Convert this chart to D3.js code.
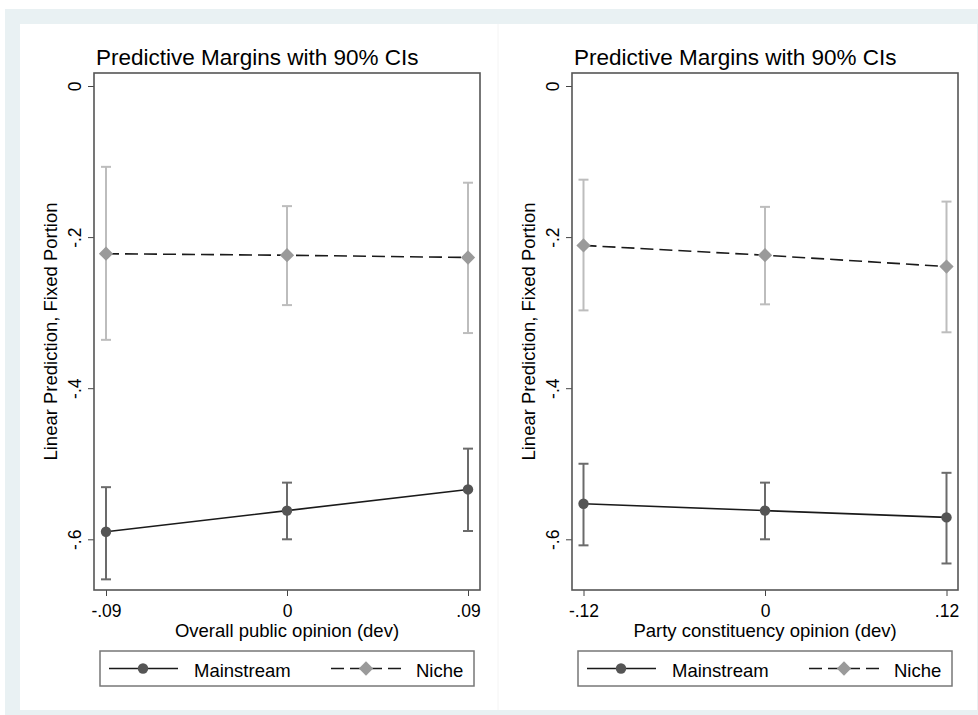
<!DOCTYPE html>
<html>
<head>
<meta charset="utf-8">
<script src="https://cdn.jsdelivr.net/npm/d3@7"></script>
<style>
  body { margin: 0; background: #fff; }
  svg { display: block; font-family: "Liberation Sans", Arial, Helvetica, sans-serif; }
</style>
</head>
<body>
<svg id="chart" width="978" height="715"></svg>
<script>
// values
const titles = ["Predictive Margins with 90% CIs", "Predictive Margins with 90% CIs"];
const xTitles = ["Overall public opinion (dev)", "Party constituency opinion (dev)"];
const yTitle = "Linear Prediction, Fixed Portion";
const yTicks = [0, -0.2, -0.4, -0.6];
const seriesNames = ["Mainstream", "Niche"];

const leftX = [-0.09, 0, 0.09];
const leftMain = [-0.590, -0.562, -0.534];
const leftMainLo = [-0.653, -0.600, -0.589];
const leftMainHi = [-0.531, -0.525, -0.480];
const leftNiche = [-0.222, -0.224, -0.227];
const leftNicheLo = [-0.336, -0.290, -0.327];
const leftNicheHi = [-0.107, -0.159, -0.128];

const rightX = [-0.12, 0, 0.12];
const rightMain = [-0.553, -0.562, -0.571];
const rightMainLo = [-0.608, -0.600, -0.632];
const rightMainHi = [-0.500, -0.525, -0.512];
const rightNiche = [-0.211, -0.224, -0.239];
const rightNicheLo = [-0.297, -0.289, -0.326];
const rightNicheHi = [-0.124, -0.160, -0.153];

const svg = d3.select("#chart");

// light frame round the whole graph
svg.append("rect").attr("x", 5).attr("y", 9).attr("width", 973).attr("height", 706).attr("fill", "#e9f1f3");
svg.append("rect").attr("x", 20).attr("y", 24).attr("width", 957).attr("height", 686).attr("fill", "#fff");
svg.append("line").attr("x1", 498).attr("x2", 498).attr("y1", 24).attr("y2", 710)
  .attr("stroke", "#f4f4f4").attr("stroke-width", 1);

// Stata style labels: "-.09", "0", ".12" with a plain hyphen
const fmt = d => d === 0 ? "0" : d3.format(".2~f")(d).replace("\u2212", "-").replace("0.", ".");

const panels = [
  { left: 94, right: 480, xv: leftX, xr: [106, 468], main: leftMain, mainLo: leftMainLo, mainHi: leftMainHi,
    niche: leftNiche, nicheLo: leftNicheLo, nicheHi: leftNicheHi },
  { left: 572, right: 958, xv: rightX, xr: [583.5, 946.5], main: rightMain, mainLo: rightMainLo, mainHi: rightMainHi,
    niche: rightNiche, nicheLo: rightNicheLo, nicheHi: rightNicheHi }
];

const plotTop = 73, plotBottom = 590;
const y = d3.scaleLinear().domain([0, -0.6]).range([86, 539.3]);

const diamond = d3.symbol().type(d3.symbolDiamond2).size(130);
const circle = d3.symbol().type(d3.symbolCircle).size(85);

panels.forEach((p, i) => {
  const x = d3.scaleLinear().domain([p.xv[0], p.xv[2]]).range(p.xr);
  const g = svg.append("g");

  // title
  g.append("text").attr("x", p.left + 2).attr("y", 65)
    .attr("font-size", 22.5).attr("fill", "#000").text(titles[i]);

  // y axis
  const ya = g.append("g").attr("transform", `translate(${p.left},0)`)
    .call(d3.axisLeft(y).tickValues(yTicks).tickSize(6).tickFormat(fmt));
  ya.select(".domain").remove();
  ya.selectAll(".tick line").attr("stroke", "#444");
  ya.selectAll(".tick text")
    .attr("transform", "rotate(-90)").attr("x", 0).attr("y", -13).attr("dy", 0)
    .attr("text-anchor", "middle").attr("font-size", 17.5).attr("fill", "#000");

  // x axis
  const xa = g.append("g").attr("transform", `translate(0,${plotBottom})`)
    .call(d3.axisBottom(x).tickValues(p.xv).tickSize(6).tickFormat(fmt));
  xa.select(".domain").remove();
  xa.selectAll(".tick line").attr("stroke", "#444");
  xa.selectAll(".tick text").attr("y", 27).attr("dy", 0)
    .attr("font-size", 17.5).attr("fill", "#000");

  // axis titles
  g.append("text").attr("transform", `translate(${p.left - 37},${(plotTop + plotBottom) / 2}) rotate(-90)`)
    .attr("text-anchor", "middle").attr("font-size", 18.5).attr("fill", "#000").text(yTitle);
  g.append("text").attr("x", x(0)).attr("y", 637).attr("text-anchor", "middle")
    .attr("font-size", 18.5).attr("fill", "#000").text(xTitles[i]);

  // plot frame
  g.append("rect").attr("x", p.left).attr("y", plotTop).attr("width", p.right - p.left).attr("height", plotBottom - plotTop)
    .attr("fill", "none").attr("stroke", "#555").attr("stroke-width", 1.6);

  const series = [
    { v: p.main, lo: p.mainLo, hi: p.mainHi, ci: "#6b6b6b", mk: "#555", dash: null, sym: circle },
    { v: p.niche, lo: p.nicheLo, hi: p.nicheHi, ci: "#bdbdbd", mk: "#9a9a9a", dash: "13,6", sym: diamond }
  ];

  series.forEach(s => {
    const pts = p.xv.map((xv, k) => ({ x: xv, v: s.v[k], lo: s.lo[k], hi: s.hi[k] }));
    // confidence intervals
    const ci = g.append("g").attr("stroke", s.ci).attr("stroke-width", 2).attr("fill", "none");
    ci.selectAll(".bar").data(pts).enter().append("line")
      .attr("x1", d => x(d.x)).attr("x2", d => x(d.x)).attr("y1", d => y(d.lo)).attr("y2", d => y(d.hi));
    ci.selectAll(".capLo").data(pts).enter().append("line")
      .attr("x1", d => x(d.x) - 5).attr("x2", d => x(d.x) + 5).attr("y1", d => y(d.lo)).attr("y2", d => y(d.lo));
    ci.selectAll(".capHi").data(pts).enter().append("line")
      .attr("x1", d => x(d.x) - 5).attr("x2", d => x(d.x) + 5).attr("y1", d => y(d.hi)).attr("y2", d => y(d.hi));
    // connecting line
    g.append("path").datum(pts)
      .attr("d", d3.line().x(d => x(d.x)).y(d => y(d.v)))
      .attr("fill", "none").attr("stroke", "#1a1a1a").attr("stroke-width", 1.6)
      .attr("stroke-dasharray", s.dash);
    // markers
    g.selectAll(null).data(pts).enter().append("path")
      .attr("d", s.sym).attr("transform", d => `translate(${x(d.x)},${y(d.v)})`)
      .attr("fill", s.mk);
  });

  // legend
  const lx = p.left + 6, ly = 651;
  const lg = g.append("g").attr("transform", `translate(${lx},${ly})`);
  lg.append("rect").attr("width", 374).attr("height", 35).attr("fill", "#fff")
    .attr("stroke", "#777").attr("stroke-width", 1.5);
  lg.append("line").attr("x1", 9).attr("x2", 78).attr("y1", 17.5).attr("y2", 17.5)
    .attr("stroke", "#1a1a1a").attr("stroke-width", 1.6);
  lg.append("path").attr("d", circle).attr("transform", "translate(43,17.5)").attr("fill", "#555");
  lg.append("text").attr("x", 94).attr("y", 26).attr("font-size", 18.5).attr("fill", "#000").text(seriesNames[0]);
  lg.append("line").attr("x1", 231).attr("x2", 301).attr("y1", 17.5).attr("y2", 17.5)
    .attr("stroke", "#1a1a1a").attr("stroke-width", 1.6).attr("stroke-dasharray", "13,6");
  lg.append("path").attr("d", diamond).attr("transform", "translate(266,17.5)").attr("fill", "#9a9a9a");
  lg.append("text").attr("x", 316).attr("y", 26).attr("font-size", 18.5).attr("fill", "#000").text(seriesNames[1]);
});
</script>
</body>
</html>
